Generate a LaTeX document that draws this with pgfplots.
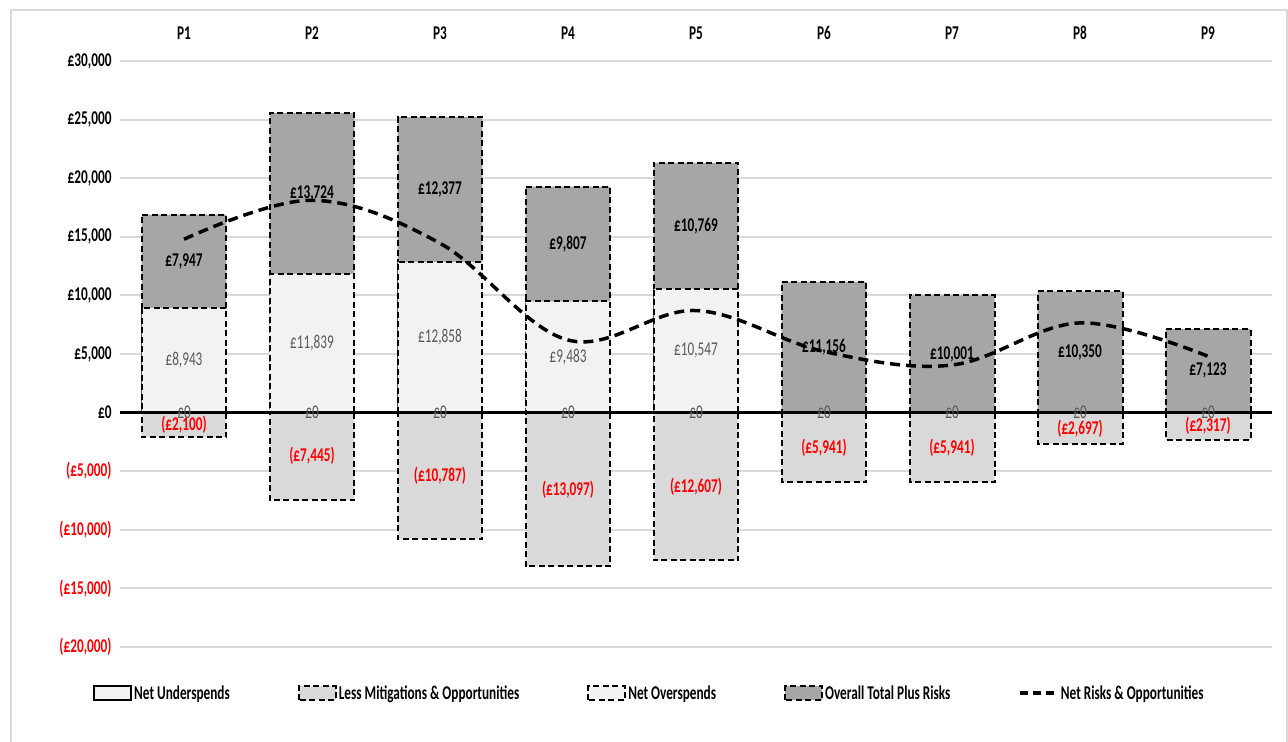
\documentclass[border=0pt]{standalone}
\usepackage{fontspec}
\setmainfont{Carlito}[FakeStretch=0.68]
\usepackage{pgfplots}
\pgfplotsset{compat=1.18}
\usepackage{pgfplotstable}

\definecolor{cLight}{HTML}{F2F2F2}
\definecolor{cMid}{HTML}{D9D9D9}
\definecolor{cDark}{HTML}{A6A6A6}
\definecolor{cGrid}{HTML}{D9D9D9}
\definecolor{cLab}{HTML}{595959}
\definecolor{cRed}{HTML}{FF0000}

\newcommand\lbl{\fontsize{19.5bp}{23bp}\selectfont}

% period, underspend, mitigations, overspend, total plus risks, net risks
\pgfplotstableread{
x under mitig over top net
0 0 -2100 8943 7947 14790
1 0 -7445 11839 13724 18118
2 0 -10787 12858 12377 14448
3 0 -13097 9483 9807 6193
4 0 -12607 10547 10769 8709
5 0 -5941 0 11156 5215
6 0 -5941 0 10001 4060
7 0 -2697 0 10350 7653
8 0 -2317 0 7123 4806
}\budget

\begin{document}
\begin{tikzpicture}
\useasboundingbox (0,0) rectangle (1288bp,742bp);
\draw[cGrid, line width=2bp] (11bp,-5bp) rectangle (1287bp,732bp);
\begin{axis}[
    at={(120bp,95bp)}, anchor=south west,
    scale only axis, width=1152bp, height=586bp,
    xmin=-0.5, xmax=8.5, ymin=-20000, ymax=30000,
    scaled y ticks=false,
    xtick={0,...,8},
    xticklabels={P1,P2,P3,P4,P5,P6,P7,P8,P9},
    xticklabel pos=upper,
    xticklabel style={font=\lbl\bfseries, yshift=18bp},
    ytick={-20000,-15000,...,30000},
    yticklabels={{\color{cRed}(£20,000)},{\color{cRed}(£15,000)},{\color{cRed}(£10,000)},{\color{cRed}(£5,000)},£0,{£5,000},{£10,000},{£15,000},{£20,000},{£25,000},{£30,000}},
    yticklabel style={font=\lbl\bfseries, xshift=-5bp},
    axis line style={draw=none},
    major tick style={draw=none},
    ymajorgrids=true,
    grid style={cGrid, line width=2bp},
    /pgf/number format/.cd, fixed, precision=0, 1000 sep={,}, assume math mode=true,
    /pgfplots/.cd,
    dashbar/.style={ybar, bar width=0.664, bar shift=0pt, draw=black, line width=2bp, dash pattern=on 6bp off 3.5bp},
    lab/.style={only marks, mark=*, mark size=0pt, mark options={draw=none, fill=none}, forget plot,
        every node near coord/.append style={anchor=center, font=\lbl}},
    legend columns=5,
    legend style={at={(axis description cs:-0.0234,-0.0785)}, anchor=west, draw=none, fill=none,
        font=\lbl\bfseries, inner sep=0pt,
        /tikz/every even column/.append style={column sep=66bp}},
]
% bars
\addplot[dashbar, fill=cMid, forget plot] table[x=x, y=mitig] {\budget};
\addplot[ybar, bar width=0.664, bar shift=0pt, draw=black, line width=2bp, solid, fill=cLight, forget plot] table[x=x, y=under] {\budget};
\addplot[dashbar, fill=cDark, forget plot] table[x=x, y expr=\thisrow{over}+\thisrow{top}] {\budget};
\addplot[dashbar, fill=cLight, forget plot] table[x=x, y=over] {\budget};
% zero line
\addplot[sharp plot, black, line width=3bp, forget plot] coordinates {(-0.5,0) (8.5,0)};
% data labels
\addplot[lab, nodes near coords={£0}, every node near coord/.append style={text=cLab}]
    table[x=x, y=under] {\budget};
\addplot[lab, nodes near coords={(£\pgfmathprintnumber{\pgfplotspointmeta})},
    every node near coord/.append style={text=cRed, font=\lbl\bfseries}, point meta={-\thisrow{mitig}}]
    table[x=x, y expr=\thisrow{mitig}/2] {\budget};
\addplot[lab, restrict x to domain=0:4, nodes near coords={£\pgfmathprintnumber{\pgfplotspointmeta}},
    every node near coord/.append style={text=cLab}, point meta=\thisrow{over}]
    table[x=x, y expr=\thisrow{over}/2] {\budget};
\addplot[lab, nodes near coords={£\pgfmathprintnumber{\pgfplotspointmeta}},
    every node near coord/.append style={text=black, font=\lbl\bfseries}, point meta=\thisrow{top}]
    table[x=x, y expr=\thisrow{over}+\thisrow{top}/2] {\budget};
% net risks line
\addplot[smooth, tension=0.6, black, line width=3.5bp, dash pattern=on 10bp off 6bp, forget plot]
    table[x=x, y=net] {\budget};
% legend
\addlegendimage{legend image code/.code={\draw[black, solid, line width=2bp, fill=cLight] (0bp,-7bp) rectangle (37bp,7bp);}}
\addlegendentry{Net Underspends}
\addlegendimage{legend image code/.code={\draw[black, line width=2bp, dash pattern=on 6bp off 3.5bp, fill=cMid] (0bp,-7bp) rectangle (37bp,7bp);}}
\addlegendentry{Less Mitigations \& Opportunities}
\addlegendimage{legend image code/.code={\draw[black, line width=2bp, dash pattern=on 6bp off 3.5bp, fill=cLight] (0bp,-7bp) rectangle (37bp,7bp);}}
\addlegendentry{Net Overspends}
\addlegendimage{legend image code/.code={\draw[black, line width=2bp, dash pattern=on 6bp off 3.5bp, fill=cDark] (0bp,-7bp) rectangle (37bp,7bp);}}
\addlegendentry{Overall Total Plus Risks}
\addlegendimage{legend image code/.code={\draw[black, line width=3.5bp, dash pattern=on 8bp off 5bp] (0bp,0bp) -- (37bp,0bp);}}
\addlegendentry{Net Risks \& Opportunities}
\end{axis}
\end{tikzpicture}
\end{document}
